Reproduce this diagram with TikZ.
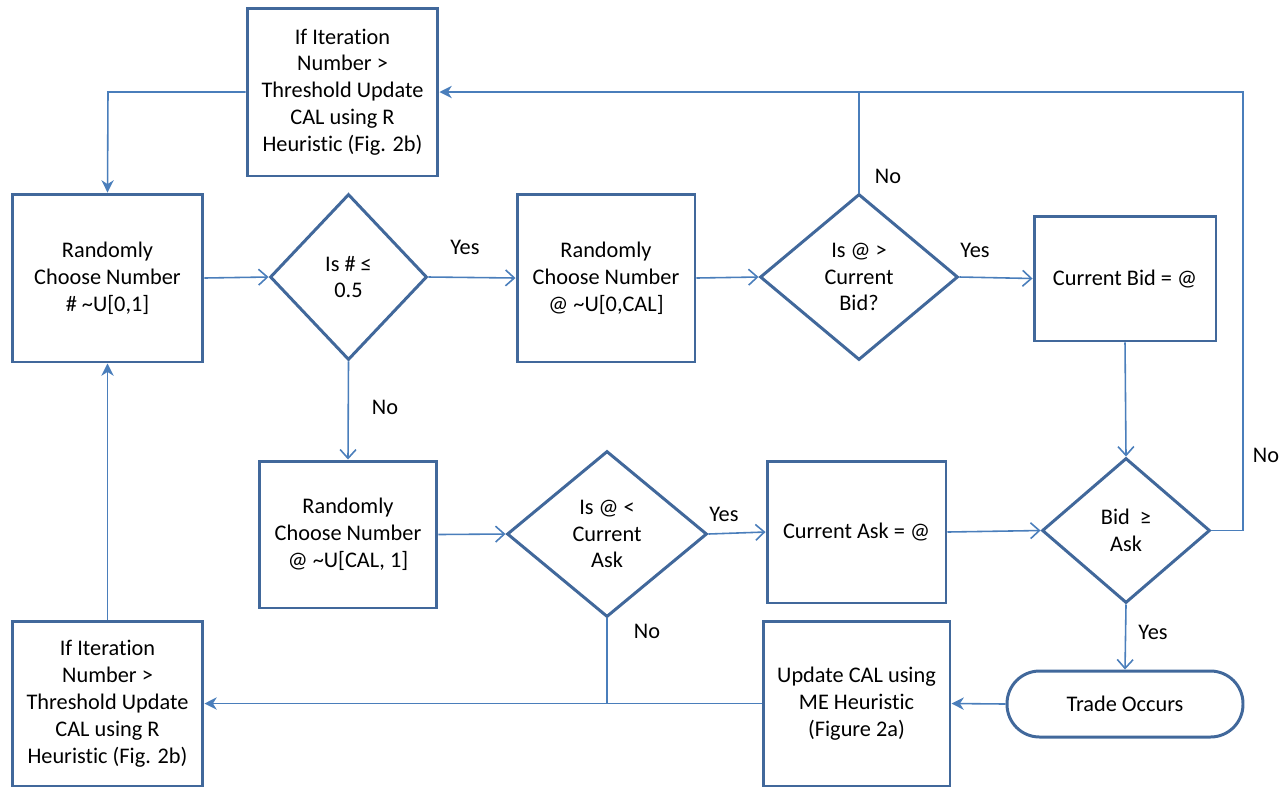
\documentclass[tikz,border=0pt]{standalone}
\usepackage{fontspec}
\setmainfont[Ligatures={NoCommon}]{Carlito}
\usetikzlibrary{shapes.geometric,arrows.meta}
\definecolor{boxc}{RGB}{65,104,155}
\definecolor{linec}{RGB}{74,126,187}
\tikzset{
  base/.style={draw=boxc, line width=1.7pt, align=center, inner sep=0pt, font=\fontsize{12.7}{15.3}\selectfont, text=black},
  proc/.style={base, rectangle},
  dec/.style={base, diamond, shape aspect=1},
  term/.style={base, rectangle, rounded corners=0.65cm},
  conn/.style={draw=linec, line width=0.9pt},
  openarr/.style={conn, -{Straight Barb[length=5pt,width=9pt,line width=0.9pt]}},
  fillarr/.style={conn, -{Stealth[length=7pt,width=7pt,inset=2.2pt]}},
  lbl/.style={font=\fontsize{12.7}{15.3}\selectfont, text=black, inner sep=0pt}
}
\begin{document}
\begin{tikzpicture}[x=0.02cm,y=-0.02cm]
\useasboundingbox (0,0) rectangle (1283,789);
\node[proc, minimum width=3.82cm, minimum height=3.36cm] (if1) at (342.5,92) {If Iteration\\Number >\\Threshold Update\\CAL using R\\Heuristic (Fig. 2b)};
\node[proc, minimum width=3.82cm, minimum height=3.36cm] (r1) at (107.5,278) {Randomly\\Choose Number\\\# \textasciitilde U[0,1]};
\node[dec, minimum width=3.14cm, minimum height=3.32cm] (d1) at (348.5,277) {Is \# ≤\\0.5};
\node[proc, minimum width=3.56cm, minimum height=3.36cm] (r2) at (606,278) {Randomly\\Choose Number\\@ \textasciitilde U[0,CAL]};
\node[dec, minimum width=3.96cm, minimum height=3.32cm] (d2) at (859,277) {Is @ >\\Current\\Bid?};
\node[proc, minimum width=3.64cm, minimum height=2.5cm] (cb) at (1125,278.5) {Current Bid = @};
\node[proc, minimum width=3.56cm, minimum height=2.94cm] (r3) at (348,534.5) {Randomly\\Choose Number\\@ \textasciitilde U[CAL, 1]};
\node[dec, minimum width=4.0cm, minimum height=3.32cm] (d3) at (607,534) {Is @ <\\Current\\Ask};
\node[proc, minimum width=3.58cm, minimum height=2.84cm] (ca) at (856.5,532) {Current Ask = @};
\node[dec, minimum width=3.36cm, minimum height=2.9cm] (d4) at (1126,530.5) {Bid~~≥\\Ask};
\node[term, minimum width=4.72cm, minimum height=1.32cm] (tr) at (1125,704) {Trade Occurs};
\node[proc, minimum width=3.74cm, minimum height=3.3cm] (up) at (856.5,703.5) {Update CAL using\\ME Heuristic\\(Figure 2a)};
\node[proc, minimum width=3.82cm, minimum height=3.3cm] (if2) at (107.5,703.5) {If Iteration\\Number >\\Threshold Update\\CAL using R\\Heuristic (Fig. 2b)};

\coordinate (c1) at (108,92);
\coordinate (c2) at (1243,92);
\coordinate (c3) at (1243,530.5);

\draw[fillarr] (if1.west) -- (c1) -- (r1.north);
\draw[openarr] (r1.east) -- (d1.west);
\draw[openarr] (d1.east) -- (r2.west);
\draw[openarr] (d1.south) -- (r3.north);
\draw[openarr] (r2.east) -- (d2.west);
\draw[openarr] (d2.east) -- (cb.west);
\draw[conn] (d2.north) -- (d2.north |- if1.east);
\draw[fillarr] (d4.east) -- (c3) -- (c2) -- (if1.east);
\draw[openarr] (cb.south) -- (d4.north);
\draw[openarr] (r3.east) -- (d3.west);
\draw[openarr] (d3.east) -- (ca.west);
\draw[openarr] (ca.east) -- (d4.west);
\draw[conn] (d3.south) -- (d3.south |- if2.east);
\draw[openarr] (d4.south) -- (tr.north);
\draw[fillarr] (tr.west) -- (up.east);
\draw[fillarr] (up.west) -- (if2.east);
\draw[fillarr] (if2.north) -- (r1.south);

\node[lbl] (l1) at (465,247) {Yes};
\node[lbl] (l2) at (385,407) {No};
\node[lbl] (l3) at (888,176) {No};
\node[lbl] (l4) at (975,250) {Yes};
\node[lbl] (l5) at (724,514) {Yes};
\node[lbl] (l6) at (647,631) {No};
\node[lbl] (l7) at (1153,632) {Yes};
\node[lbl] (l8) at (1266,455) {No};
\end{tikzpicture}
\end{document}
